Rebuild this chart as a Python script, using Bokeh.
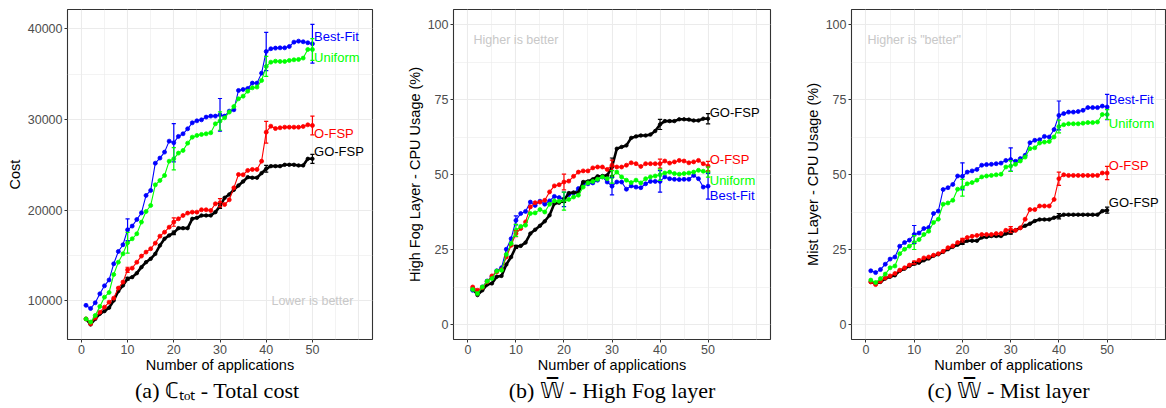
from bokeh.plotting import figure
from bokeh.layouts import row
from bokeh.models import FixedTicker, Title, Range1d, ColumnDataSource
from bokeh.embed import file_html
from bokeh.resources import INLINE
from bokeh.core.properties import value

n_apps = list(range(1, 51))
err_apps = [10, 20, 30, 40, 50]
series_names = ["Best-Fit", "GO-FSP", "O-FSP", "Uniform"]
series_colors = ["#0000FF", "#000000", "#FF0000", "#00FF00"]

# ---- (a) Total cost ----
cost_bestfit = [9500, 9150, 9780, 10770, 11650, 12300, 14080, 15440, 16180, 17830,
                18240, 18970, 19700, 21620, 22170, 25180, 25740, 26400, 27610, 27430,
                28130, 28420, 28970, 29630, 29850, 29960, 30260, 30370, 30370, 30510,
                30370, 30920, 31070, 33200, 33310, 33420, 34010, 34010, 35110, 37500,
                37800, 37870, 37900, 37900, 38050, 38530, 38640, 38570, 38460, 38350]
cost_gofsp = [8000, 7390, 8000, 8570, 8860, 9230, 10040, 11070, 11690, 12430,
              12610, 13050, 13710, 14260, 14630, 15180, 16100, 16840, 17210, 17500,
              18010, 18010, 18010, 19040, 19150, 19410, 19410, 19410, 19780, 20440,
              21360, 21730, 22240, 22720, 23160, 23640, 23570, 23570, 24080, 24560,
              24850, 24850, 24850, 25000, 25000, 25000, 24930, 24930, 25660, 25660]
cost_ofsp = [8000, 7460, 8120, 8750, 9300, 9850, 10290, 11400, 12060, 13420,
             13600, 14260, 14930, 15370, 15740, 16360, 17130, 17570, 18120, 18680,
             19040, 19410, 19670, 19780, 19780, 20040, 20040, 19960, 20700, 20810,
             20620, 21140, 22460, 23930, 23900, 24380, 24490, 24490, 25400, 28600,
             29260, 29000, 29080, 29150, 29150, 29150, 29150, 29230, 29410, 29340]
cost_uniform = [8000, 7650, 8380, 9380, 10400, 10920, 12900, 14260, 15180, 16400,
                16840, 17390, 18680, 19850, 20515, 22790, 23270, 23820, 25400, 25660,
                26290, 26580, 27390, 28050, 28240, 28350, 28420, 28530, 29520, 29820,
                30180, 30810, 31430, 32280, 32570, 33120, 33490, 33570, 34300, 35850,
                36320, 36430, 36400, 36400, 36510, 36580, 36620, 36770, 37720, 37720]
cost_err_bestfit = [1200, 2110, 1800, 2110, 2130]
cost_err_gofsp = [150, 200, 250, 370, 500]
cost_err_ofsp = [280, 460, 460, 1200, 1030]
cost_err_uniform = [1140, 1230, 1010, 1100, 1200]
cost_label_y = [39190, 26510, 28420, 36880]
cost_yticks = [10000, 20000, 30000, 40000]
cost_yminor = [15000, 25000, 35000]

# ---- (b) High Fog layer ----
fog_bestfit = [11.4, 10.7, 12.5, 14.5, 15.9, 17.9, 18.9, 25.1, 28.6, 34.7,
               37.0, 37.7, 40.8, 39.7, 41.1, 40.1, 41.2, 42.7, 42.3, 41.7,
               43.3, 43.8, 45.3, 46.9, 46.9, 47.2, 48.1, 49.2, 47.5, 46.1,
               47.5, 47.5, 45.1, 46.2, 45.8, 45.6, 46.9, 47.7, 47.7, 47.7,
               49.2, 48.6, 48.4, 48.3, 48.4, 48.4, 49.7, 48.6, 45.8, 46.1]
fog_gofsp = [12.0, 9.8, 11.4, 13.3, 13.7, 15.9, 16.2, 20.0, 22.5, 25.9,
             26.2, 27.3, 30.3, 31.6, 32.9, 34.4, 36.4, 40.3, 40.6, 41.4,
             43.8, 44.0, 44.0, 47.5, 47.7, 48.4, 49.4, 49.5, 49.7, 52.5,
             58.6, 59.2, 59.7, 62.2, 62.7, 63.0, 63.0, 63.3, 64.5, 66.7,
             67.8, 67.8, 67.8, 68.4, 68.4, 68.3, 68.0, 68.0, 68.6, 68.6]
fog_ofsp = [12.5, 11.4, 12.3, 14.2, 16.2, 17.5, 18.3, 22.5, 26.4, 30.3,
            32.0, 34.2, 39.2, 40.6, 40.8, 41.4, 44.2, 46.2, 46.6, 47.5,
            47.8, 49.4, 50.8, 51.2, 51.2, 52.2, 52.5, 52.5, 51.7, 53.1,
            52.5, 52.5, 53.1, 53.9, 53.6, 52.7, 53.6, 53.6, 53.6, 53.6,
            54.5, 53.8, 54.2, 54.7, 54.5, 53.9, 54.2, 54.7, 53.6, 52.8]
fog_uniform = [11.7, 10.3, 12.5, 14.4, 15.3, 17.8, 18.1, 23.3, 27.0, 31.4,
               32.7, 33.1, 37.0, 37.2, 38.3, 37.5, 40.1, 41.2, 41.1, 41.1,
               41.7, 42.5, 43.1, 45.8, 47.2, 47.7, 48.4, 49.2, 48.6, 49.2,
               50.8, 49.2, 48.1, 47.3, 48.1, 47.2, 48.6, 49.2, 49.5, 49.9,
               50.5, 50.8, 50.3, 50.1, 50.3, 50.5, 50.8, 51.4, 51.1, 50.8]
fog_err_bestfit = [1.5, 2.4, 2.9, 3.6, 4.3]
fog_err_gofsp = [0.5, 0.7, 3.0, 1.7, 1.7]
fog_err_ofsp = [1.0, 2.6, 1.7, 1.5, 1.6]
fog_err_uniform = [2.0, 3.0, 2.1, 1.9, 1.7]
fog_label_y = [43.1, 70.8, 55.0, 48.1]

# ---- (c) Mist layer ----
mist_bestfit = [17.9, 17.3, 18.3, 20.1, 21.8, 22.5, 26.1, 27.3, 28.1, 30.0,
                30.5, 32.0, 32.3, 37.0, 37.8, 45.0, 45.6, 46.7, 49.5, 49.4,
                50.8, 51.2, 51.7, 53.1, 53.3, 53.4, 53.6, 53.8, 54.7, 55.0,
                54.4, 55.3, 56.4, 60.6, 61.4, 61.6, 62.7, 62.5, 65.0, 69.7,
                70.3, 70.8, 70.8, 71.0, 71.4, 72.3, 72.3, 72.3, 72.8, 72.5]
mist_gofsp = [14.2, 13.7, 14.2, 15.3, 15.9, 16.4, 17.9, 18.6, 19.5, 20.3,
              20.6, 21.4, 22.0, 22.9, 23.4, 24.2, 25.1, 25.9, 26.6, 27.2,
              27.9, 27.9, 27.9, 29.0, 29.2, 29.5, 29.5, 29.5, 30.3, 30.6,
              31.4, 32.2, 32.9, 33.6, 34.5, 35.0, 35.0, 35.0, 35.6, 36.1,
              36.6, 36.6, 36.6, 36.6, 36.6, 36.6, 36.6, 36.6, 37.8, 38.1]
mist_ofsp = [14.2, 13.3, 14.4, 15.5, 16.2, 17.0, 18.1, 18.9, 19.8, 20.6,
             21.4, 22.2, 22.5, 23.1, 23.6, 24.4, 25.6, 26.2, 27.3, 28.1,
             29.0, 29.4, 29.7, 30.0, 30.0, 30.0, 30.3, 30.3, 31.4, 31.6,
             31.4, 32.2, 35.1, 38.3, 38.3, 39.5, 39.5, 39.5, 41.7, 48.6,
             49.9, 49.7, 49.7, 49.7, 49.7, 49.7, 49.7, 49.7, 50.5, 50.5]
mist_uniform = [14.8, 14.0, 15.3, 16.8, 18.9, 19.5, 23.6, 25.1, 26.1, 27.3,
                28.3, 30.0, 31.1, 34.0, 35.1, 40.1, 40.5, 41.4, 45.1, 45.6,
                46.9, 47.3, 48.1, 49.2, 49.5, 49.7, 49.9, 50.1, 52.5, 52.8,
                53.4, 54.5, 55.8, 58.6, 58.9, 60.5, 60.8, 61.0, 62.5, 66.0,
                66.6, 66.9, 66.9, 66.9, 67.1, 67.3, 67.3, 67.5, 70.0, 70.0]
mist_err_bestfit = [3.0, 4.5, 3.9, 4.8, 4.2]
mist_err_gofsp = [0.4, 0.5, 0.5, 0.9, 1.0]
mist_err_ofsp = [0.5, 0.6, 1.0, 2.2, 2.2]
mist_err_uniform = [2.3, 2.8, 1.8, 2.1, 1.6]
mist_label_y = [75.0, 40.8, 53.0, 66.9]

pct_yticks = [0, 25, 50, 75, 100]
pct_yminor = [12.5, 37.5, 62.5, 87.5]
x_ticks = [0, 10, 20, 30, 40, 50]
x_grid_major = [0, 10, 20, 30, 40, 50, 60]
x_grid_minor = [5, 15, 25, 35, 45, 55]

SANS = "Liberation Sans"
SERIF = "Liberation Serif"


def make_panel(width, bl, br, xr, yr, ylabel, caption, series, errs,
               label_y, yticks, yminor, note, note_xy):
    p = figure(width=width, height=408, output_backend="svg", toolbar_location=None,
               x_range=Range1d(*xr), y_range=Range1d(*yr),
               min_border_left=bl, min_border_right=br, min_border_top=9,
               min_border_bottom=69)
    p.background_fill_color = "white"
    p.border_fill_color = "white"
    p.outline_line_color = "#333333"
    p.outline_line_width = 1.1

    # grids
    p.xgrid.ticker = FixedTicker(ticks=x_grid_major, minor_ticks=x_grid_minor)
    p.ygrid.ticker = FixedTicker(ticks=yticks, minor_ticks=yminor)
    for g in (p.xgrid, p.ygrid):
        g.grid_line_color = "#EBEBEB"
        g.grid_line_width = 1.1
        g.minor_grid_line_color = "#EBEBEB"
        g.minor_grid_line_width = 0.6

    # axes
    p.xaxis.ticker = FixedTicker(ticks=x_ticks)
    p.yaxis.ticker = FixedTicker(ticks=yticks)
    p.yaxis.major_label_overrides = {t: str(t) for t in yticks}
    for ax in (p.xaxis, p.yaxis):
        ax.axis_line_color = None
        ax.major_tick_line_color = "#333333"
        ax.major_tick_in = 0
        ax.major_tick_out = 3
        ax.minor_tick_line_color = None
        ax.major_label_text_color = "#4D4D4D"
        ax.major_label_text_font = SANS
        ax.major_label_text_font_size = "12.5px"
        ax.axis_label_text_font = SANS
        ax.axis_label_text_font_size = "14.5px"
        ax.axis_label_text_font_style = "normal"
        ax.axis_label_text_color = "black"
    p.xaxis.major_label_standoff = 2
    p.xaxis.axis_label_standoff = 0
    p.yaxis.major_label_standoff = 2
    p.yaxis.axis_label_standoff = 2
    p.xaxis.axis_label = "Number of applications"
    p.yaxis.axis_label = ylabel

    # series (drawn in factor order)
    for vals, col in zip(series, series_colors):
        lw = 2.6 if col == "#000000" else 1.1
        sz = 3.5 if col == "#000000" else 4
        p.line(n_apps, vals, line_color=col, line_width=lw)
        p.scatter(n_apps, vals, size=sz, fill_color=col, line_color=col,
                  line_width=0.8)
    # error bars
    for vals, e, col in zip(series, errs, series_colors):
        m = [vals[x - 1] for x in err_apps]
        lo = [a - b for a, b in zip(m, e)]
        hi = [a + b for a, b in zip(m, e)]
        xl = [x - 0.45 for x in err_apps]
        xh = [x + 0.45 for x in err_apps]
        p.segment(err_apps, lo, err_apps, hi, line_color=col, line_width=1.2)
        p.segment(xl, lo, xh, lo, line_color=col, line_width=1.2)
        p.segment(xl, hi, xh, hi, line_color=col, line_width=1.2)

    src = ColumnDataSource(dict(x=[50.35] * 4, y=label_y, t=series_names,
                                c=series_colors))
    p.text(x="x", y="y", text="t", text_color="c", source=src,
           text_font=value(SANS), text_font_size=value("13px"),
           text_baseline="middle", text_align="left")
    p.text(x=[note_xy[0]], y=[note_xy[1]], text=[note], text_color="#C8C8C8",
           text_font=value(SANS), text_font_size=value("12.5px"),
           text_baseline="middle", text_align="center")

    p.add_layout(Title(text=caption, align="center", text_font=SERIF,
                       text_font_size="22px", text_font_style="normal",
                       text_color="black", standoff=1, offset=0), "below")
    return p


p1 = make_panel(390, 67, 18, (-3, 63), (5731, 42129), "Cost",
                "(a) \u2102\u209c\u2092\u209c  - Total cost",
                [cost_bestfit, cost_gofsp, cost_ofsp, cost_uniform],
                [cost_err_bestfit, cost_err_gofsp, cost_err_ofsp, cost_err_uniform],
                cost_label_y, cost_yticks, cost_yminor, "Lower is better", (50, 10000))
p2 = make_panel(386, 63, 6, (-3, 63), (-5, 105), "High Fog Layer - CPU Usage (%)",
                "(b) \U0001D54E\u0305 - High Fog layer",
                [fog_bestfit, fog_gofsp, fog_ofsp, fog_uniform],
                [fog_err_bestfit, fog_err_gofsp, fog_err_ofsp, fog_err_uniform],
                fog_label_y, pct_yticks, pct_yminor, "Higher is better", (10, 95))
p3 = make_panel(390, 75, 1, (-3, 62.1), (-5, 105), "Mist Layer - CPU Usage (%)",
                "(c) \U0001D54E\u0305 - Mist layer",
                [mist_bestfit, mist_gofsp, mist_ofsp, mist_uniform],
                [mist_err_bestfit, mist_err_gofsp, mist_err_ofsp, mist_err_uniform],
                mist_label_y, pct_yticks, pct_yminor, 'Higher is "better"', (10, 95))

layout = row(p1, p2, p3)
open("out.html", "w").write(file_html(layout, INLINE))
